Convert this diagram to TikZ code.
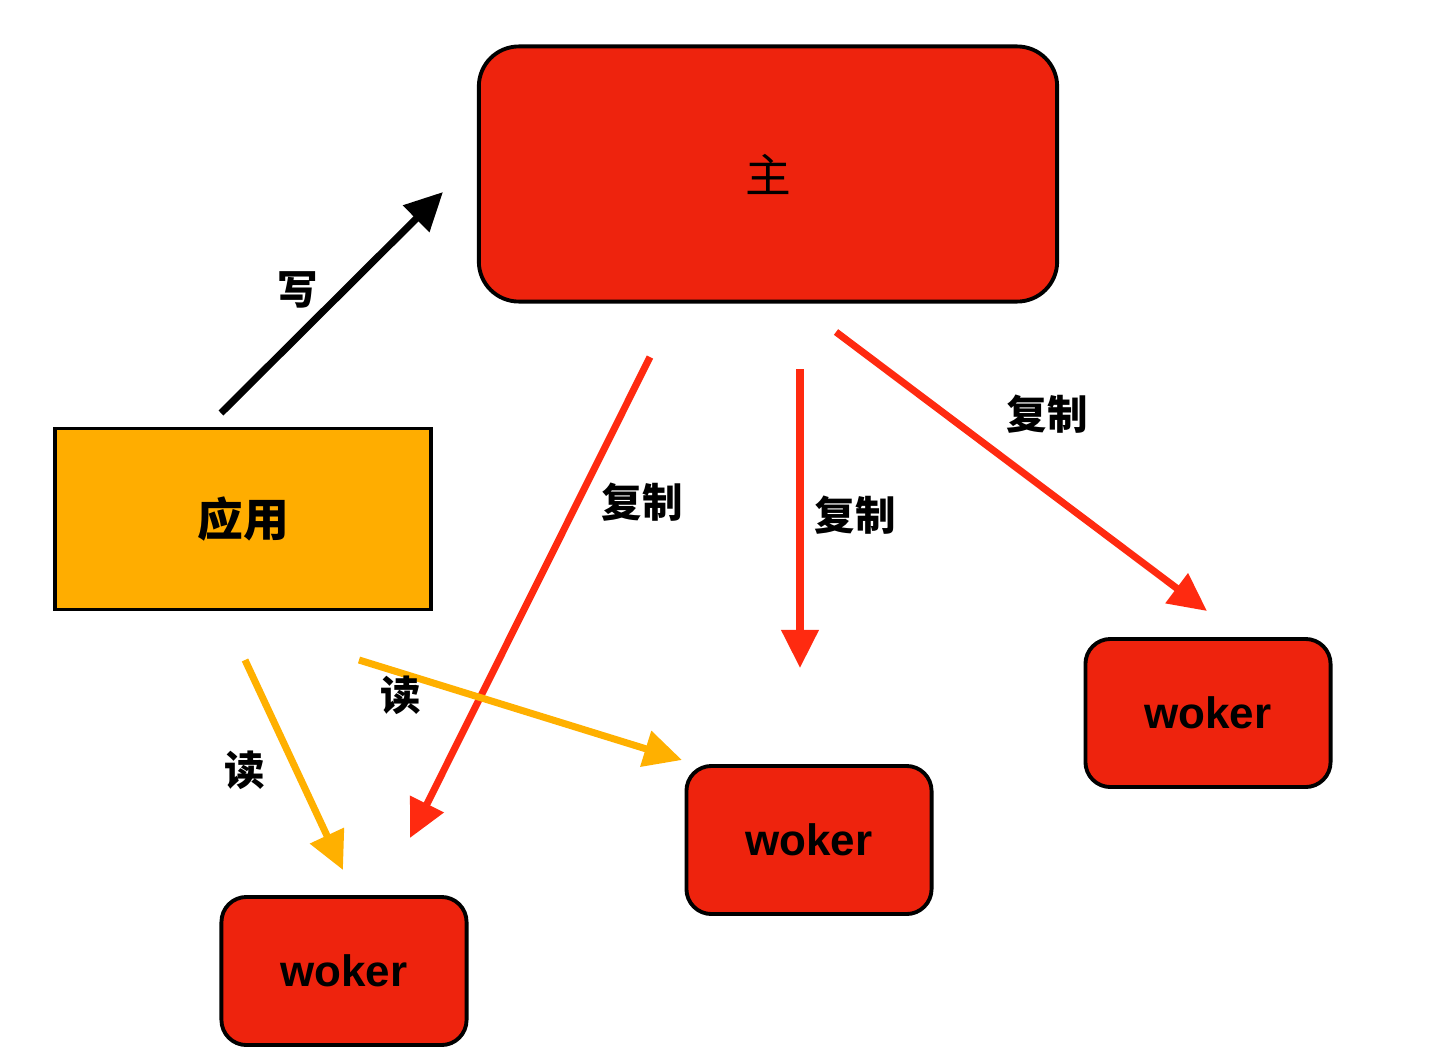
\documentclass[tikz,border=0pt]{standalone}
\usepackage{fontspec}
\setmainfont{Liberation Sans}
\newfontfamily\cjk{Noto Sans CJK SC}
\usetikzlibrary{arrows.meta}
\definecolor{boxred}{HTML}{EE230D}
\definecolor{apporange}{HTML}{FFAD00}
\definecolor{arrowred}{HTML}{FF2A10}
\definecolor{arroworange}{HTML}{FFB000}

\begin{document}
\begin{tikzpicture}
    [x=0.01cm, y=-0.01cm, every node/.style={draw, line width=1.1pt, inner sep=0pt},
     worker/.style={fill=boxred, rounded corners=0.25cm, minimum width=2.45cm, minimum height=1.48cm, font=\fontsize{12.5}{14}\selectfont\bfseries},
     lbl/.style={draw=none, font=\cjk\bfseries\fontsize{11.5}{13}\selectfont},
     flow/.style={-{Triangle[length=0.38cm, width=0.36cm]}, line width=2pt}]
  \useasboundingbox (0,0) rectangle (1445,1057);

  \node[fill=boxred, rounded corners=0.4cm, minimum width=5.78cm, minimum height=2.55cm, font=\cjk\fontsize{13}{15}\selectfont] (master) at (768,174) {主};
  \node[fill=apporange, minimum width=3.76cm, minimum height=1.81cm, font=\cjk\bfseries\fontsize{13}{15}\selectfont] (app) at (243,519) {应用};
  \node[worker] (w1) at (344,971) {woker};
  \node[worker] (w2) at (809,840) {woker};
  \node[worker] (w3) at (1208,713) {woker};

  % arrow ends
  \coordinate (wa) at (221,413);  \coordinate (wb) at (443,192);
  \coordinate (r1a) at (650,357); \coordinate (r1b) at (410,838);
  \coordinate (r2a) at (800,369); \coordinate (r2b) at (800,668);
  \coordinate (r3a) at (836,332); \coordinate (r3b) at (1207,611);
  \coordinate (o1a) at (245,660); \coordinate (o1b) at (343,870);
  \coordinate (o2a) at (359,660); \coordinate (o2b) at (682,760);

  \draw[flow, black] (wa) -- (wb);
  \foreach \from/\to in {r1a/r1b, r2a/r2b, r3a/r3b}
    \draw[flow, arrowred] (\from) -- (\to);
  \foreach \from/\to in {o1a/o1b, o2a/o2b}
    \draw[flow, arroworange] (\from) -- (\to);

  \node[lbl] (l1) at (298,290) {写};
  \node[lbl] (l2) at (642,502) {复制};
  \node[lbl] (l3) at (855,515) {复制};
  \node[lbl] (l4) at (1047,414) {复制};
  \node[lbl] (l5) at (245,770) {读};
  \node[lbl] (l6) at (401,695) {读};
\end{tikzpicture}
\end{document}
